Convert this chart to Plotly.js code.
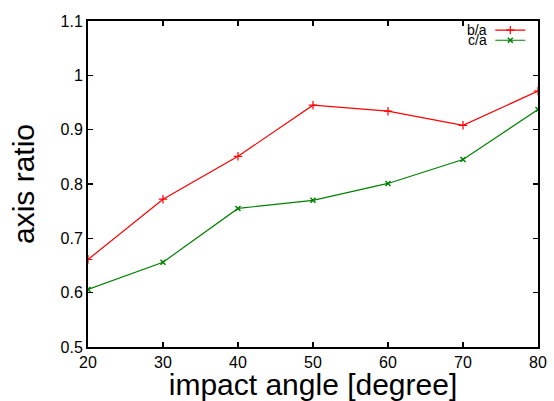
<!DOCTYPE html>
<html><head><meta charset="utf-8">
<script src="https://cdn.plot.ly/plotly-3.0.1.min.js"></script>
<style>html,body{margin:0;padding:0;background:#fff}#c{width:554px;height:401px}</style>
</head><body><div id="c"></div>
<script>
const angles = [20, 30, 40, 50, 60, 70, 80];
const ba = [0.661, 0.772, 0.851, 0.945, 0.934, 0.908, 0.971];
const ca = [0.606, 0.656, 0.755, 0.770, 0.801, 0.845, 0.937];
const seriesNames = ["b/a", "c/a"];
const xTicks = [20, 30, 40, 50, 60, 70, 80];
const yTicks = [0.5, 0.6, 0.7, 0.8, 0.9, 1, 1.1];
const yTickText = ["0.5", "0.6", "0.7", "0.8", "0.9", "1", "1.1"];

const font = "Liberation Sans, Arial, Helvetica, sans-serif";
const traces = [
  {x: angles, y: ba, mode: "lines+markers", name: " ", legend: "legend", line: {color: "#ff0000", width: 1.2},
   marker: {symbol: "cross-thin", size: 6, color: "#ff0000", line: {color: "#ff0000", width: 1.2}}},
  {x: angles, y: ca, mode: "lines+markers", name: " ", legend: "legend2", line: {color: "#008000", width: 1.2},
   marker: {symbol: "x-thin", size: 5, color: "#008000", line: {color: "#008000", width: 1.5}}}
];
const axisCommon = {showgrid: false, zeroline: false, showline: true, linecolor: "#000", linewidth: 2,
  mirror: "ticks", ticks: "inside", ticklen: 5, tickwidth: 1.5, tickcolor: "#000",
  tickfont: {family: font, size: 16, color: "#000"}};
const legendCommon = {x: 0.894, xanchor: "left", yanchor: "middle", bgcolor: "rgba(0,0,0,0)",
  font: {family: font, size: 6}, itemwidth: 30, borderwidth: 0};
const layout = {
  width: 554, height: 401,
  margin: {l: 88, r: 16, t: 21, b: 54},
  paper_bgcolor: "#fff", plot_bgcolor: "#fff",
  font: {family: font, color: "#000"},
  xaxis: Object.assign({}, axisCommon, {range: [20, 80], tickvals: xTicks,
    title: {text: "impact angle [degree]", font: {family: font, size: 30}, standoff: 5}}),
  yaxis: Object.assign({}, axisCommon, {range: [0.5, 1.1], tickvals: yTicks, ticktext: yTickText,
    title: {text: "axis ratio", font: {family: font, size: 30}, standoff: 17}}),
  showlegend: true,
  legend: Object.assign({}, legendCommon, {y: 0.972}),
  legend2: Object.assign({}, legendCommon, {y: 0.941}),
  annotations: seriesNames.map((n, i) => ({text: n, xref: "paper", yref: "paper", x: 0.892, y: 0.972 - i * 0.031,
    xanchor: "right", yanchor: "middle", showarrow: false, font: {family: font, size: 14, color: "#000"}}))
};
Plotly.newPlot("c", traces, layout, {displayModeBar: false, staticPlot: true});
</script></body></html>
